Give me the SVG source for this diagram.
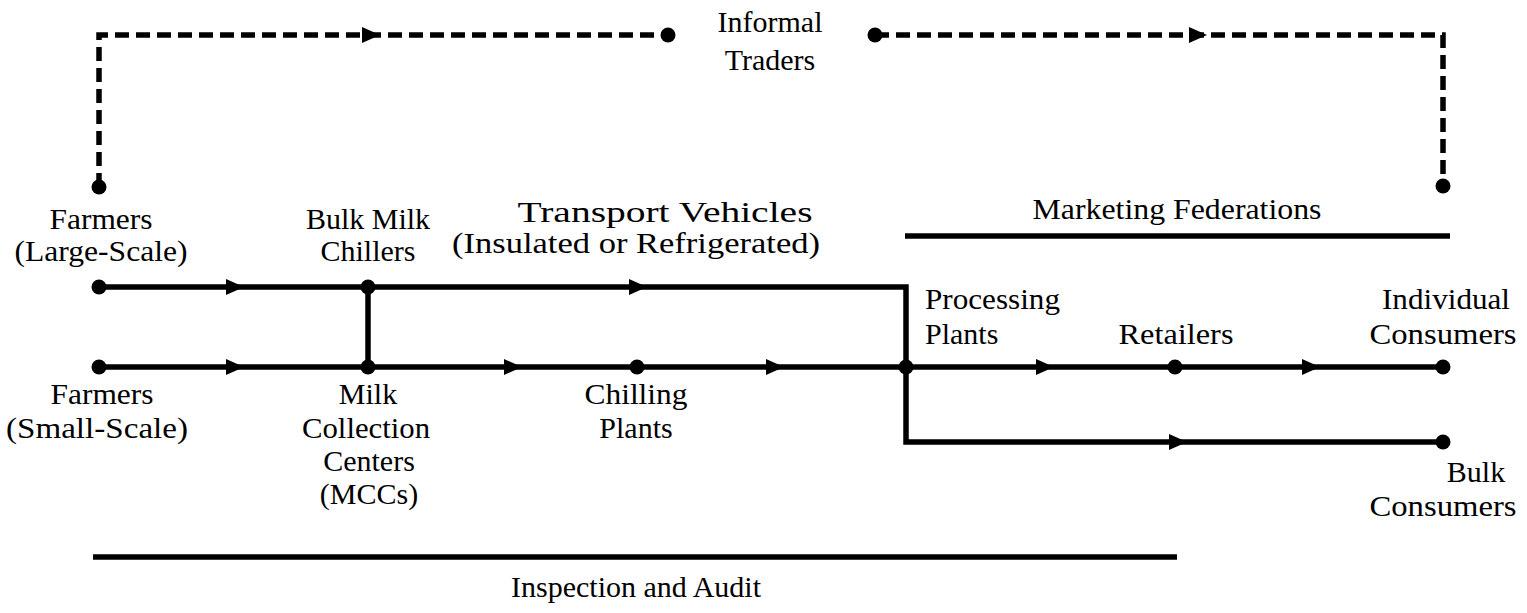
<svg xmlns="http://www.w3.org/2000/svg" width="1527" height="613" viewBox="0 0 1527 613">
<style>
text{font-family:"Liberation Serif","Times New Roman",serif;font-size:30px;fill:#000;text-anchor:middle}
.l{text-anchor:start}
.s{fill:none;stroke:#000;stroke-width:5.5}
.d{fill:none;stroke:#000;stroke-width:5.5;stroke-dasharray:14 7}
.dot{fill:#000}
</style>
<defs>
<path id="ah" d="M-16,-8 L2,0 L-16,8 Z"/>
</defs>
<rect width="1527" height="613" fill="#fff"/>
<g id="connectors">
<path class="d" d="M99,187 V35 H668"/>
<path class="d" d="M875,35 H1443 V186"/>
<path class="s" d="M99,287 H906 V442 H1443"/>
<path class="s" d="M99,367 H1443"/>
<path class="s" d="M368,287 V367"/>
<use href="#ah" x="378" y="35"/>
<use href="#ah" x="1205" y="35"/>
<use href="#ah" x="242" y="287"/>
<use href="#ah" x="645" y="287"/>
<use href="#ah" x="242" y="367"/>
<use href="#ah" x="520" y="367"/>
<use href="#ah" x="782" y="367"/>
<use href="#ah" x="1052" y="367"/>
<use href="#ah" x="1318" y="367"/>
<use href="#ah" x="1185" y="442"/>
</g>
<g id="informal-traders">
<circle class="dot" cx="668" cy="35" r="7.5"/>
<circle class="dot" cx="875" cy="35" r="7.5"/>
<text x="770" y="32">Informal</text>
<text x="770" y="70">Traders</text>
</g>
<g id="farmers-large">
<circle class="dot" cx="99" cy="187" r="7.5"/>
<circle class="dot" cx="99" cy="287" r="7.5"/>
<text x="101" y="229" textLength="103" lengthAdjust="spacingAndGlyphs">Farmers</text>
<text x="101" y="261" textLength="173" lengthAdjust="spacingAndGlyphs">(Large-Scale)</text>
</g>
<g id="bulk-milk-chillers">
<circle class="dot" cx="368" cy="287" r="7.5"/>
<text x="368" y="229">Bulk Milk</text>
<text x="368" y="261">Chillers</text>
</g>
<g id="transport-vehicles">
<text x="665" y="222" textLength="295" lengthAdjust="spacingAndGlyphs">Transport Vehicles</text>
<text x="636" y="253" textLength="368" lengthAdjust="spacingAndGlyphs">(Insulated or Refrigerated)</text>
</g>
<g id="marketing-federations">
<circle class="dot" cx="1443" cy="186" r="7.5"/>
<text x="1177" y="219" textLength="289" lengthAdjust="spacingAndGlyphs">Marketing Federations</text>
<line class="s" x1="905" y1="236" x2="1450" y2="236"/>
</g>
<g id="farmers-small">
<circle class="dot" cx="99" cy="367" r="7.5"/>
<text x="102" y="404" textLength="103" lengthAdjust="spacingAndGlyphs">Farmers</text>
<text x="97" y="438" textLength="182" lengthAdjust="spacingAndGlyphs">(Small-Scale)</text>
</g>
<g id="mccs">
<circle class="dot" cx="368" cy="367" r="7.5"/>
<text x="368" y="404">Milk</text>
<text x="366" y="438" textLength="128" lengthAdjust="spacingAndGlyphs">Collection</text>
<text x="369" y="471">Centers</text>
<text x="369" y="504">(MCCs)</text>
</g>
<g id="chilling-plants">
<circle class="dot" cx="637" cy="367" r="7.5"/>
<text x="636" y="404" textLength="103" lengthAdjust="spacingAndGlyphs">Chilling</text>
<text x="636" y="438">Plants</text>
</g>
<g id="processing-plants">
<circle class="dot" cx="906" cy="367" r="7.5"/>
<text class="l" x="925" y="309" textLength="135" lengthAdjust="spacingAndGlyphs">Processing</text>
<text class="l" x="925" y="344">Plants</text>
</g>
<g id="retailers">
<circle class="dot" cx="1175" cy="367" r="7.5"/>
<text x="1176" y="344" textLength="115" lengthAdjust="spacingAndGlyphs">Retailers</text>
</g>
<g id="individual-consumers">
<circle class="dot" cx="1443" cy="367" r="7.5"/>
<text x="1446" y="309" textLength="128" lengthAdjust="spacingAndGlyphs">Individual</text>
<text x="1443" y="344" textLength="147" lengthAdjust="spacingAndGlyphs">Consumers</text>
</g>
<g id="bulk-consumers">
<circle class="dot" cx="1443" cy="442" r="7.5"/>
<text x="1476" y="482">Bulk</text>
<text x="1443" y="516" textLength="147" lengthAdjust="spacingAndGlyphs">Consumers</text>
</g>
<g id="inspection-audit">
<line class="s" x1="93" y1="557" x2="1177" y2="557"/>
<text x="636" y="597">Inspection and Audit</text>
</g>
</svg>
